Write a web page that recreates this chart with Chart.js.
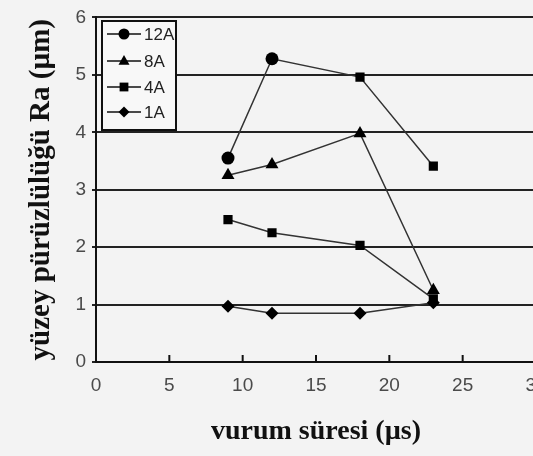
<!DOCTYPE html>
<html>
<head>
<meta charset="utf-8">
<script src="https://cdn.jsdelivr.net/npm/chart.js@4.4.1/dist/chart.umd.min.js"></script>
<style>
  html, body { margin: 0; padding: 0; overflow: hidden; background: #f3f3f3; }
  #wrap { width: 545px; height: 456px; }
</style>
</head>
<body>
<div id="wrap"><canvas id="chart" width="545" height="456"></canvas></div>
<script>
const pulseTimes = [9, 12, 18, 23];
const seriesNames = ["12A", "8A", "4A", "1A"];
const ra12A = [3.55, 5.28, 4.96, 3.41];
const ra8A = [3.25, 3.44, 3.98, 1.25];
const ra4A = [2.48, 2.25, 2.03, 1.1];
const ra1A = [0.97, 0.85, 0.85, 1.03];
const xTicks = [0, 5, 10, 15, 20, 25, 30];
const yTicks = [0, 1, 2, 3, 4, 5, 6];

const markers = [
  ["circle", "circle", "rect", "rect"],
  "triangle",
  "rect",
  "rectRot"
];
const markerSizes = [6.5, 7.5, 6.5, 6.5];
const legendMarkers = ["circle", "triangle", "rect", "rectRot"];

function toPoints(vals) {
  return vals.map((v, i) => ({ x: pulseTimes[i], y: v }));
}

function drawMarker(ctx, style, x, y, r) {
  ctx.beginPath();
  if (style === "circle") {
    ctx.arc(x, y, r, 0, Math.PI * 2);
  } else if (style === "triangle") {
    ctx.moveTo(x, y - r * 1.1);
    ctx.lineTo(x + r, y + r * 0.7);
    ctx.lineTo(x - r, y + r * 0.7);
    ctx.closePath();
  } else if (style === "rect") {
    const s = r * 0.8;
    ctx.rect(x - s, y - s, s * 2, s * 2);
  } else {
    ctx.moveTo(x, y - r);
    ctx.lineTo(x + r, y);
    ctx.lineTo(x, y + r);
    ctx.lineTo(x - r, y);
    ctx.closePath();
  }
  ctx.fill();
}

// inward tick marks on the x axis
const innerTicks = {
  id: "innerTicks",
  afterDatasetsDraw(chart) {
    const ctx = chart.ctx;
    const xs = chart.scales.x;
    const bottom = chart.chartArea.bottom;
    ctx.save();
    ctx.strokeStyle = "#111";
    ctx.lineWidth = 2;
    xTicks.forEach(t => {
      if (t === 0) return;
      const px = xs.getPixelForValue(t);
      ctx.beginPath();
      ctx.moveTo(px, bottom);
      ctx.lineTo(px, bottom - 7);
      ctx.stroke();
    });
    ctx.restore();
  }
};

// legend box in the top-left corner of the plot
const boxLegend = {
  id: "boxLegend",
  afterDraw(chart) {
    const ctx = chart.ctx;
    ctx.save();
    ctx.fillStyle = "#f8f8f8";
    ctx.fillRect(102, 21, 74, 109);
    ctx.strokeStyle = "#111";
    ctx.lineWidth = 2;
    ctx.strokeRect(102, 21, 74, 109);
    const rows = [34, 61, 87, 112];
    seriesNames.forEach((name, i) => {
      const y = rows[i];
      ctx.strokeStyle = "#111";
      ctx.lineWidth = 1.5;
      ctx.beginPath();
      ctx.moveTo(107, y);
      ctx.lineTo(141, y);
      ctx.stroke();
      ctx.fillStyle = "#000";
      drawMarker(ctx, legendMarkers[i], 124, y, 5.5);
      ctx.fillStyle = "#222";
      ctx.font = "17px 'Liberation Sans Narrow', 'Liberation Sans', sans-serif";
      ctx.textBaseline = "middle";
      ctx.textAlign = "left";
      ctx.fillText(name, 144, y + 1);
    });
    ctx.restore();
  }
};

const allSeries = [ra12A, ra8A, ra4A, ra1A];

const datasets = allSeries.map((vals, i) => ({
  label: seriesNames[i],
  data: toPoints(vals),
  borderColor: "#333",
  borderWidth: 1.5,
  backgroundColor: "#000",
  pointBackgroundColor: "#000",
  pointBorderColor: "#000",
  pointBorderWidth: 0,
  pointStyle: markers[i],
  pointRadius: markerSizes[i],
  tension: 0,
  showLine: true
}));

new Chart(document.getElementById("chart"), {
  type: "scatter",
  data: { datasets },
  options: {
    responsive: false,
    animation: false,
    layout: { padding: { top: 17, right: 9, left: 0, bottom: 0 } },
    plugins: {
      legend: { display: false },
      tooltip: { enabled: false }
    },
    scales: {
      x: {
        type: "linear",
        min: 0,
        max: 30,
        afterBuildTicks: s => { s.ticks = xTicks.map(v => ({ value: v })); },
        afterFit: s => { s.height = 94; s.paddingRight = 0; s.paddingLeft = 0; },
        grid: { display: false, drawTicks: false },
        border: { display: true, color: "#111", width: 2 },
        ticks: {
          padding: 12,
          color: "#4a4a4a",
          maxRotation: 0,
          font: { family: "'Liberation Sans', Arial, sans-serif", size: 19 }
        },
        title: {
          display: true,
          text: "vurum süresi (µs)",
          color: "#111",
          padding: { top: 0, bottom: 7 },
          font: { family: "'Liberation Serif', 'Times New Roman', serif", size: 28, weight: "bold" }
        }
      },
      y: {
        min: 0,
        max: 6,
        afterBuildTicks: s => { s.ticks = yTicks.map(v => ({ value: v })); },
        afterFit: s => { s.width = 96; },
        grid: { color: "#222", lineWidth: 2, tickLength: 4, drawTicks: true },
        border: { display: true, color: "#111", width: 2 },
        ticks: {
          padding: 6,
          color: "#4a4a4a",
          font: { family: "'Liberation Sans', Arial, sans-serif", size: 19 }
        },
        title: {
          display: true,
          text: "yüzey pürüzlülüğü Ra (µm)",
          color: "#111",
          padding: { top: 24, bottom: 0 },
          font: { family: "'Liberation Serif', 'Times New Roman', serif", size: 29, weight: "bold" }
        }
      }
    }
  },
  plugins: [innerTicks, boxLegend]
});
</script>
</body>
</html>
